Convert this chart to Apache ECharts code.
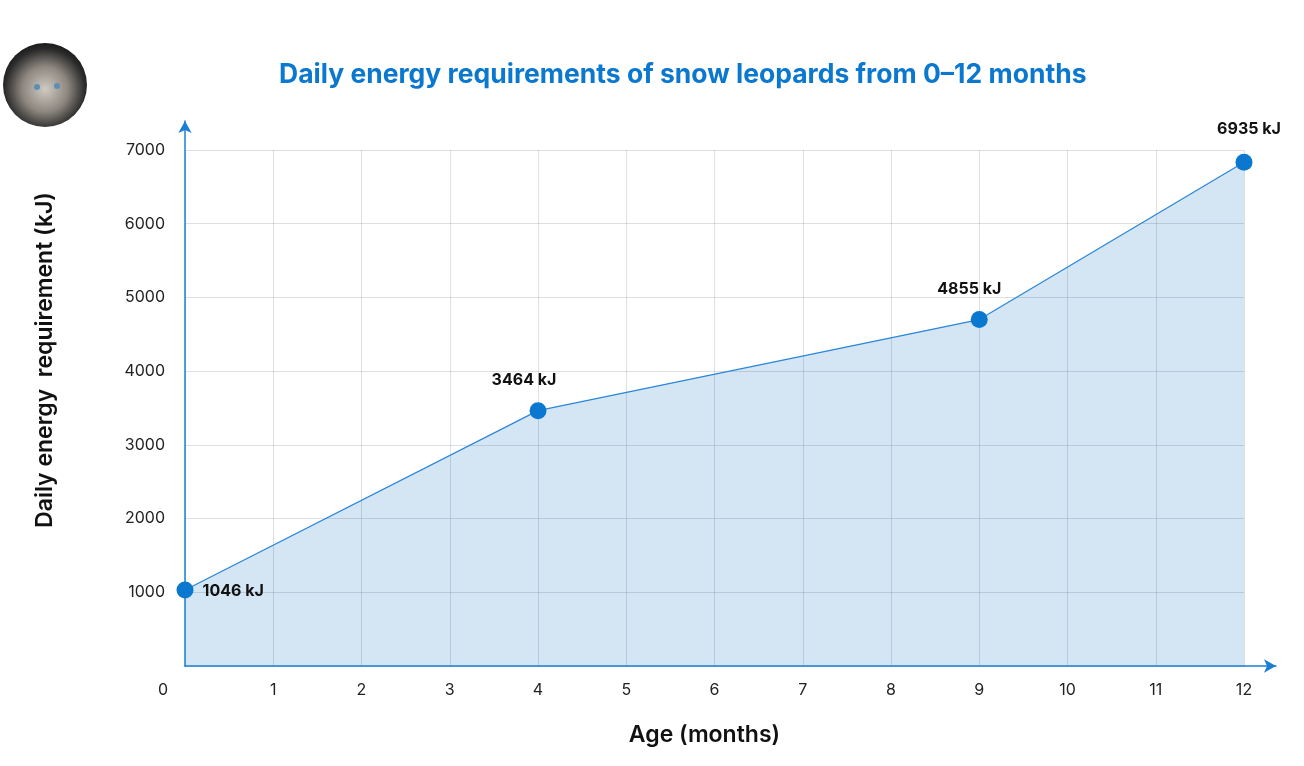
<!DOCTYPE html>
<html><head><meta charset="utf-8">
<script src="https://cdn.jsdelivr.net/npm/echarts@6/dist/echarts.min.js"></script>
<style>html,body{margin:0;padding:0;background:#fff}#c{width:1304px;height:766px}</style>
</head><body><div id="c"></div>
<script>
const titleText = 'Daily energy requirements of snow leopards from 0\u201312 months';
const xName = 'Age (months)';
const yName = 'Daily energy  requirement (kJ)';
const ages = [0, 4, 9, 12];
const energy = [1030, 3464, 4700, 6835];
const energyLabels = ['1046 kJ', '3464 kJ', '4855 kJ', '6935 kJ'];
const yTicks = [1000, 2000, 3000, 4000, 5000, 6000, 7000];

const labelPlacement = [
  {position: 'right', offset: [-1, 1]},
  {position: 'top', offset: [-14, -4]},
  {position: 'top', offset: [-10, -4]},
  {position: 'top', offset: [5, -6]}
];
const pts = ages.map((a, i) => [a, energy[i]]);
const ptsData = pts.map((p, i) => ({
  value: p,
  label: Object.assign({show: true, formatter: energyLabels[i]}, labelPlacement[i])
}));

const chart = echarts.init(document.getElementById('c'));
const font = 'Inter, "Noto Sans", sans-serif';
chart.setOption({
  animation: false,
  title: {text: titleText, left: 274, top: 57,
    textStyle: {fontFamily: font, fontSize: 26.5, fontWeight: 700, color: '#0b78d0'}},
  graphic: [
    {type: 'circle', shape: {cx: 45, cy: 85, r: 42},
      style: {fill: {type: 'radial', x: 0.5, y: 0.55, r: 0.6,
        colorStops: [{offset: 0, color: '#cfcac2'}, {offset: 0.45, color: '#8d877f'}, {offset: 0.8, color: '#2a2a2a'}, {offset: 1, color: '#111'}]}}},
    {type: 'circle', shape: {cx: 37, cy: 87, r: 3}, style: {fill: '#5c8fb5'}},
    {type: 'circle', shape: {cx: 57, cy: 86, r: 3}, style: {fill: '#5c8fb5'}}
  ],
  grid: [
    {left: 185, right: 60, top: 150, bottom: 100},
    {left: 185, right: 28, top: 121, bottom: 100}
  ],
  xAxis: [
    {type: 'value', gridIndex: 0, min: 0, max: 12, interval: 1, z: 1,
      axisLine: {show: false}, axisTick: {show: false},
      splitLine: {show: true, lineStyle: {color: 'rgba(40,60,80,0.16)', width: 1}},
      axisLabel: {margin: 16, fontFamily: font, fontSize: 16, color: '#222',
        formatter: v => v === 0 ? '{z|0}' : String(v),
        rich: {z: {fontFamily: font, fontSize: 16, color: '#222', padding: [0, 44, 0, 0]}}},
      name: xName, nameLocation: 'middle', nameGap: 58,
      nameTextStyle: {fontFamily: font, fontSize: 23, fontWeight: 600, color: '#111', padding: [0, 20, 0, 0]}},
    {type: 'value', gridIndex: 1, min: 0, max: 1, z: 3,
      axisLine: {show: true, symbol: ['none', 'arrow'], symbolSize: [10, 12],
        lineStyle: {color: '#1a7fd4', width: 1.5}},
      axisTick: {show: false}, axisLabel: {show: false}, splitLine: {show: false}}
  ],
  yAxis: [
    {type: 'value', gridIndex: 0, min: 0, max: 7000, interval: 1000, z: 1,
      axisLine: {show: false}, axisTick: {show: false},
      splitLine: {show: true, lineStyle: {color: 'rgba(40,60,80,0.16)', width: 1}},
      axisLabel: {margin: 20, fontFamily: font, fontSize: 16, color: '#222',
        formatter: v => yTicks.includes(v) ? String(v) : ''},
      name: yName, nameLocation: 'middle', nameGap: 128,
      nameTextStyle: {fontFamily: font, fontSize: 23, fontWeight: 600, color: '#111', padding: [0, 0, 0, 96]}},
    {type: 'value', gridIndex: 1, min: 0, max: 1, z: 3,
      axisLine: {show: true, symbol: ['none', 'arrow'], symbolSize: [10, 12],
        lineStyle: {color: '#1a7fd4', width: 1.5}},
      axisTick: {show: false}, axisLabel: {show: false}, splitLine: {show: false}}
  ],
  series: [
    {type: 'line', xAxisIndex: 0, yAxisIndex: 0, z: 0, data: pts, showSymbol: false,
      lineStyle: {width: 0}, areaStyle: {color: '#d4e5f4', opacity: 1}, silent: true},
    {type: 'line', xAxisIndex: 0, yAxisIndex: 0, z: 4, data: ptsData,
      symbol: 'circle', symbolSize: 17,
      itemStyle: {color: '#0b78d0'},
      lineStyle: {color: '#2a86d8', width: 1.2},
      label: {fontFamily: font, fontSize: 16, fontWeight: 700, color: '#111', distance: 10}}
  ]
});
</script></body></html>
